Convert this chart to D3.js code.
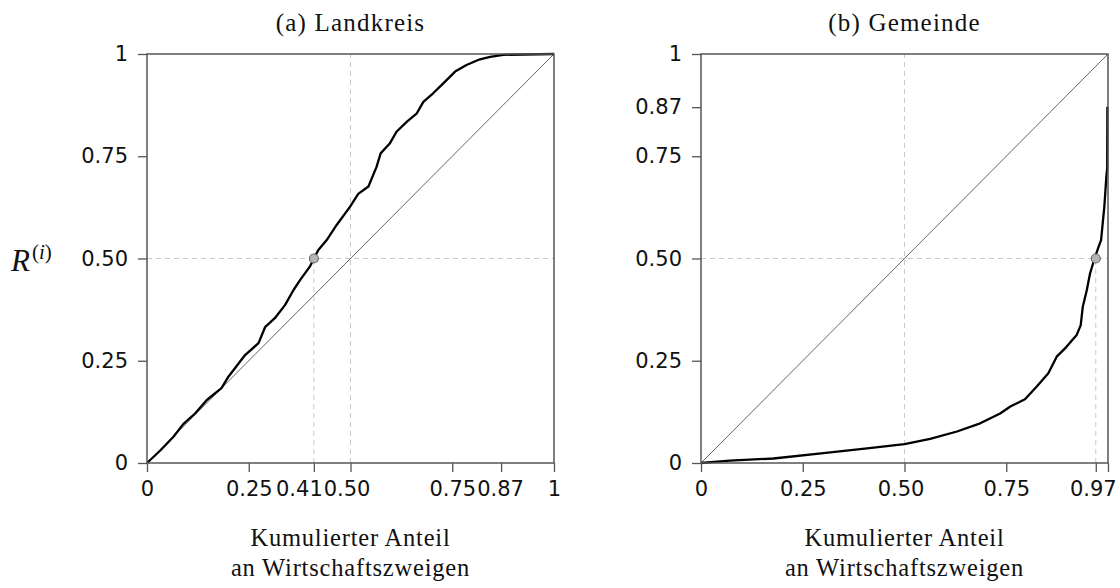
<!DOCTYPE html>
<html>
<head>
<meta charset="utf-8">
<script src="https://cdn.jsdelivr.net/npm/d3@7"></script>
<style>
  body { margin: 0; background: #fff; }
  .tick text { font-family: "DejaVu Sans", "Liberation Sans", Arial, sans-serif; font-size: 21px; fill: #111; }
  .tick line { stroke: #555; stroke-width: 1.3px; }
  .title, .xlab { font-family: "Liberation Serif", "Times New Roman", serif; fill: #111; }
</style>
</head>
<body>
<svg id="chart" width="1120" height="588"></svg>
<script>
"use strict";

/* (a) Landkreis: cumulated curve */
const landkreisX = [0, 0.032, 0.065, 0.089, 0.118, 0.147, 0.183, 0.200, 0.224, 0.241, 0.274, 0.290, 0.314,
  0.339, 0.360, 0.376, 0.400, 0.410, 0.421, 0.4415, 0.466, 0.499, 0.519, 0.544, 0.564, 0.574, 0.597, 0.613,
  0.638, 0.663, 0.679, 0.703, 0.728, 0.757, 0.785, 0.818, 0.843, 0.875, 1];
const landkreisY = [0, 0.030, 0.064, 0.095, 0.121, 0.154, 0.183, 0.211, 0.242, 0.264, 0.293, 0.332, 0.354,
  0.386, 0.423, 0.447, 0.480, 0.500, 0.521, 0.545, 0.582, 0.627, 0.658, 0.676, 0.724, 0.757, 0.782, 0.810,
  0.834, 0.855, 0.883, 0.904, 0.928, 0.957, 0.973, 0.987, 0.993, 0.998, 1];

/* (b) Gemeinde */
const gemeindeX = [0, 0.071, 0.178, 0.301, 0.408, 0.500, 0.563, 0.629, 0.686, 0.735, 0.760, 0.796, 0.825,
  0.853, 0.874, 0.898, 0.923, 0.933, 0.938, 0.948, 0.956, 0.967, 0.977, 0.983, 0.991, 0.996, 0.998, 0.9985];
const gemeindeY = [0, 0.006, 0.011, 0.024, 0.036, 0.046, 0.059, 0.077, 0.097, 0.121, 0.138, 0.156, 0.187,
  0.219, 0.260, 0.284, 0.313, 0.337, 0.382, 0.423, 0.464, 0.500, 0.529, 0.545, 0.627, 0.700, 0.720, 0.871];

/* highlighted points (share at which half is reached) */
const landkreisPoint = [0.41, 0.5];
const gemeindePoint = [0.97, 0.5];

/* tick values and labels */
const landkreisXTicks = [0, 0.25, 0.41, 0.5, 0.75, 0.87, 1];
const landkreisXLabels = ["0", "0.25", "0.41", "0.50", "0.75", "0.87", "1"];
const landkreisYTicks = [0, 0.25, 0.5, 0.75, 1];
const landkreisYLabels = ["0", "0.25", "0.50", "0.75", "1"];
const gemeindeXTicks = [0, 0.25, 0.5, 0.75, 0.97, 1];
const gemeindeXLabels = ["0", "0.25", "0.50", "0.75", "0.97", ""];
const gemeindeYTicks = [0, 0.25, 0.5, 0.75, 0.87, 1];
const gemeindeYLabels = ["0", "0.25", "0.50", "0.75", "0.87", "1"];

const titles = ["(a) Landkreis", "(b) Gemeinde"];
const xLabelLines = ["Kumulierter Anteil", "an Wirtschaftszweigen"];

const svg = d3.select("#chart");

/* crowded x labels are nudged sideways, as in the original figure */
const labelNudge = { "0.41": -15, "0.50": -4, "0.87": -1, "0.97": -3 };

/* Draw one panel of the figure */
function render_panel(opt) {
  const x = d3.scaleLinear().domain([0, 1]).range([opt.left, opt.right]);
  const y = d3.scaleLinear().domain([0, 1]).range([opt.bottom, opt.top]);
  const g = svg.append("g");

  // dashed reference lines
  const refs = [
    [0.5, 0, 0.5, 1],
    [0, 0.5, 1, 0.5],
    [opt.point[0], 0, opt.point[0], opt.point[1]]
  ];
  g.selectAll(".ref")
      .data(refs)
      .enter().append("line")
      .attr("class", "ref")
      .attr("x1", d => x(d[0])).attr("y1", d => y(d[1]))
      .attr("x2", d => x(d[2])).attr("y2", d => y(d[3]))
      .attr("stroke", "#c8c8c8").attr("stroke-width", 1).attr("stroke-dasharray", "5,4");

  // diagonal of equal distribution
  g.append("line")
      .attr("x1", x(0)).attr("y1", y(0))
      .attr("x2", x(1)).attr("y2", y(1))
      .attr("stroke", "#666").attr("stroke-width", 1);

  // the curve
  const line = d3.line()
      .x((d, i) => x(opt.xs[i]))
      .y((d, i) => y(opt.ys[i]));
  g.append("path")
      .datum(opt.xs)
      .attr("d", line)
      .attr("fill", "none")
      .attr("stroke", "#000")
      .attr("stroke-width", 2.3)
      .attr("stroke-linejoin", "round");

  g.append("circle")
      .attr("cx", x(opt.point[0])).attr("cy", y(opt.point[1]))
      .attr("r", 4.5)
      .attr("fill", "#b4b4b4").attr("stroke", "#6e6e6e").attr("stroke-width", 1.2);

  // box
  g.append("rect")
      .attr("x", opt.left).attr("y", opt.top)
      .attr("width", opt.right - opt.left).attr("height", opt.bottom - opt.top)
      .attr("fill", "none").attr("stroke", "#555").attr("stroke-width", 1.5);

  // axes
  const xAxis = d3.axisBottom(x)
      .tickValues(opt.xTicks)
      .tickFormat((d, i) => opt.xLabels[i])
      .tickSize(9).tickSizeOuter(0).tickPadding(9);
  g.append("g").attr("transform", `translate(0,${opt.bottom})`).call(xAxis)
      .call(a => a.select(".domain").remove())
      .call(a => a.selectAll(".tick text").attr("dx", function() {
        return labelNudge[d3.select(this).text()] || 0;
      }));

  const yAxis = d3.axisLeft(y)
      .tickValues(opt.yTicks)
      .tickFormat((d, i) => opt.yLabels[i])
      .tickSize(9).tickSizeOuter(0).tickPadding(10);
  g.append("g").attr("transform", `translate(${opt.left},0)`).call(yAxis)
      .call(a => a.select(".domain").remove());

  const cx = (opt.left + opt.right) / 2;
  g.append("text")
      .attr("class", "title")
      .attr("x", cx).attr("y", 31)
      .attr("text-anchor", "middle")
      .style("font-size", "25px").style("letter-spacing", "1.2px")
      .text(opt.title);

  g.selectAll(".xlab")
      .data(xLabelLines)
      .enter().append("text")
      .attr("class", "xlab")
      .attr("x", cx)
      .attr("y", (d, i) => 546 + i * 30)
      .attr("text-anchor", "middle")
      .style("font-size", "24.5px").style("letter-spacing", "0.8px")
      .text(d => d);
}

render_panel({
  left: 147, right: 554, top: 54, bottom: 463,
  xs: landkreisX, ys: landkreisY, point: landkreisPoint,
  xTicks: landkreisXTicks, xLabels: landkreisXLabels,
  yTicks: landkreisYTicks, yLabels: landkreisYLabels,
  title: titles[0]
});

render_panel({
  left: 701, right: 1108, top: 54, bottom: 463,
  xs: gemeindeX, ys: gemeindeY, point: gemeindePoint,
  xTicks: gemeindeXTicks, xLabels: gemeindeXLabels,
  yTicks: gemeindeYTicks, yLabels: gemeindeYLabels,
  title: titles[1]
});

/* y axis label R^(i) */
const rLabel = svg.append("text")
    .attr("x", 11).attr("y", 271)
    .style("font-family", "'Liberation Serif', 'Times New Roman', serif")
    .style("font-size", "31px")
    .style("fill", "#111");
rLabel.append("tspan").style("font-style", "italic").text("R");
rLabel.append("tspan").attr("dx", 2).attr("dy", -12).style("font-size", "21px").text("(");
rLabel.append("tspan").style("font-size", "21px").style("font-style", "italic").text("i");
rLabel.append("tspan").style("font-size", "21px").text(")");
</script>
</body>
</html>
